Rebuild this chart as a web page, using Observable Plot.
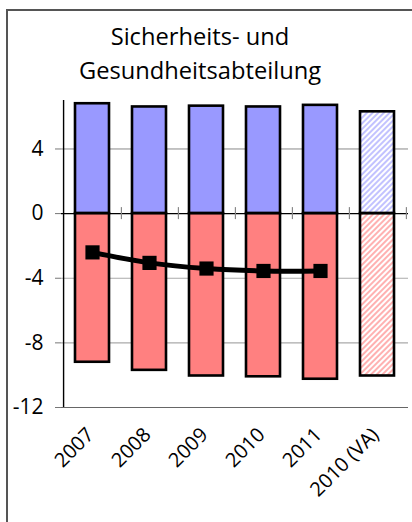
<!DOCTYPE html>
<html>
<head>
<meta charset="utf-8">
<script src="https://cdn.jsdelivr.net/npm/d3@7"></script>
<script src="https://cdn.jsdelivr.net/npm/@observablehq/plot@0.6"></script>
<style>
  html, body { margin: 0; padding: 0; background: #fff; }
  #wrap { position: relative; width: 412px; height: 522px; overflow: hidden; font-family: "Open Sans", "Noto Sans", sans-serif; }
  #frame { position: absolute; left: 6px; top: 9px; width: 600px; height: 700px; border: 2px solid #555; box-sizing: border-box; }
  #title { position: relative; width: 400px; height: 88px; box-sizing: border-box; padding-top: 20px; text-align: center; font-size: 23.7px; line-height: 33.5px; color: #000; }
  #chart { position: relative; display: block; }
</style>
</head>
<body>
<div id="wrap">
  <div id="frame"></div>
  <div id="title">Sicherheits- und<br>Gesundheitsabteilung</div>
  <div id="chart"></div>
</div>
<script>
const categories = ["2007", "2008", "2009", "2010", "2011", "2010 (VA)"];
const positiveValues = [6.8, 6.6, 6.65, 6.6, 6.7, 6.3];
const negativeValues = [-9.2, -9.7, -10.05, -10.1, -10.25, -10.05];
const projected = [false, false, false, false, false, true];
const lineCategories = ["2007", "2008", "2009", "2010", "2011"];
const lineValues = [-2.4, -3.05, -3.4, -3.55, -3.55];
const yTicks = [-12, -8, -4, 0, 4];
const yDomain = [-12, 7];

const W = 412, H = 434, ML = 61, MR = 4, MT = 12, MB = 115;
const step = (W - ML - MR) / categories.length;

const bars = categories.map((c, i) => ({cat: c, pos: positiveValues[i], neg: negativeValues[i], proj: projected[i]}));
const line = lineCategories.map((c, i) => ({cat: c, v: lineValues[i]}));

const svg = Plot.plot({
  width: W, height: H,
  marginLeft: ML, marginRight: MR, marginTop: MT, marginBottom: MB,
  style: {fontFamily: "'Open Sans', 'Noto Sans', sans-serif", fontSize: "21px", background: "transparent", overflow: "visible"},
  x: {domain: categories, paddingInner: 0.4, paddingOuter: 0.2, axis: null},
  y: {domain: yDomain},
  marks: [
    Plot.ruleY([4], {stroke: "#888", strokeWidth: 1}),
    Plot.ruleY([-4, -8], {stroke: "#aaa", strokeWidth: 1.2}),
    Plot.ruleY([-12], {stroke: "#666", strokeWidth: 1.2}),
    Plot.axisY({ticks: yTicks, tickFormat: d => String(d), tickSize: 6, tickPadding: 12, stroke: "#777", color: "#000", label: null}),
    Plot.barY(bars, {x: "cat", y: "pos", fill: d => d.proj ? "url(#hatchBlue)" : "#9999FF", stroke: "#000", strokeWidth: 2.6}),
    Plot.barY(bars, {x: "cat", y: "neg", fill: d => d.proj ? "url(#hatchRed)" : "#FF8080", stroke: "#000", strokeWidth: 2.6}),
    Plot.ruleY([0], {stroke: "#000", strokeWidth: 1.4}),
    Plot.ruleX(categories, {x: d => d, y1: 0, y2: 0, insetTop: -6, insetBottom: -6, dx: step / 2, stroke: "#888", strokeWidth: 1.2}),
    Plot.ruleX([categories[0]], {x: d => d, y1: yDomain[0], y2: yDomain[1], dx: -step / 2, stroke: "#000", strokeWidth: 1.4}),
    Plot.line(line, {x: "cat", y: "v", curve: "catmull-rom", stroke: "#000", strokeWidth: 5}),
    Plot.dot(line, {x: "cat", y: "v", symbol: "square", r: 8, fill: "#000", stroke: "none"}),
    Plot.text(categories, {x: d => d, text: d => d, frameAnchor: "bottom", rotate: -45, textAnchor: "end", lineAnchor: "middle", fontSize: 20, dx: -2, dy: 24, fill: "#000"})
  ]
});

const defs = document.createElementNS("http://www.w3.org/2000/svg", "defs");
defs.innerHTML = `
<pattern id="hatchBlue" patternUnits="userSpaceOnUse" width="4" height="4" patternTransform="rotate(45)">
  <rect width="4" height="4" fill="#fff"/>
  <line x1="1" y1="0" x2="1" y2="4" stroke="#A8A8FF" stroke-width="1.4"/>
</pattern>
<pattern id="hatchRed" patternUnits="userSpaceOnUse" width="4" height="4" patternTransform="rotate(45)">
  <rect width="4" height="4" fill="#fff"/>
  <line x1="1" y1="0" x2="1" y2="4" stroke="#FF9090" stroke-width="1.4"/>
</pattern>`;
svg.insertBefore(defs, svg.firstChild);
document.getElementById("chart").appendChild(svg);
</script>
</body>
</html>
